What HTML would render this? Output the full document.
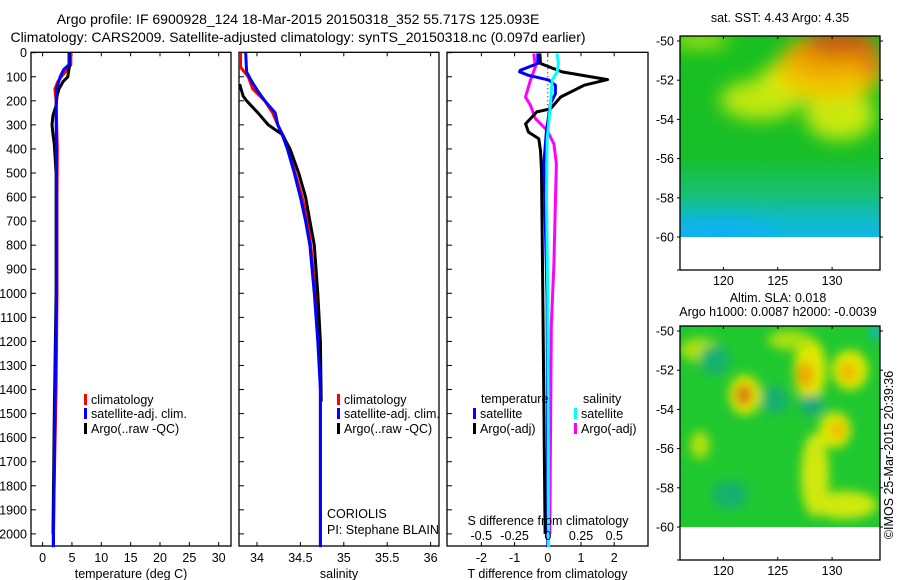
<!DOCTYPE html>
<html><head><meta charset="utf-8">
<style>
html,body{margin:0;padding:0;background:#fff;}
svg{display:block;font-family:"Liberation Sans",sans-serif;}
text{font-size:12.5px;fill:#000;}
</style></head>
<body>
<svg id="c" width="900" height="580" viewBox="0 0 900 580">
<defs>
<filter id="bl" x="-50%" y="-50%" width="200%" height="200%"><feGaussianBlur stdDeviation="9"/></filter>
<filter id="bl2" x="-50%" y="-50%" width="200%" height="200%"><feGaussianBlur stdDeviation="5"/></filter>
<clipPath id="m1"><rect x="680" y="36" width="200" height="201"/></clipPath>
<clipPath id="m2"><rect x="680" y="326" width="200" height="201"/></clipPath>
<linearGradient id="sstg" x1="0" y1="0" x2="0" y2="1">
<stop offset="0" stop-color="#18c020"/><stop offset="0.6" stop-color="#18bf28"/><stop offset="0.78" stop-color="#18c070"/><stop offset="0.9" stop-color="#10bcc0"/><stop offset="1" stop-color="#10b8e8"/>
</linearGradient>
</defs>
<text x="298" y="24" text-anchor="middle" style="font-size:14px">Argo profile: IF 6900928_124 18-Mar-2015 20150318_352 55.717S 125.093E</text>
<text x="298" y="42" text-anchor="middle" style="font-size:14px">Climatology: CARS2009. Satellite-adjusted climatology: synTS_20150318.nc (0.097d earlier)</text>

<!-- top map -->
<g>
<text x="780" y="22" text-anchor="middle">sat. SST: 4.43 Argo: 4.35</text>
<g clip-path="url(#m1)">
<rect x="680" y="36" width="200" height="201" fill="url(#sstg)"/>
<g filter="url(#bl)">
<ellipse cx="700" cy="40" rx="30" ry="8" fill="#b0e410"/>
<ellipse cx="760" cy="100" rx="40" ry="20" fill="#c0e810"/>
<ellipse cx="800" cy="80" rx="40" ry="22" fill="#d0ec10"/>
<ellipse cx="840" cy="115" rx="35" ry="25" fill="#c8ea10"/>
<ellipse cx="830" cy="70" rx="55" ry="30" fill="#f0c800"/>
<ellipse cx="830" cy="55" rx="45" ry="22" fill="#eca000"/>
<ellipse cx="840" cy="42" rx="35" ry="14" fill="#c85a08"/>
<ellipse cx="872" cy="62" rx="10" ry="20" fill="#e07808"/>
<ellipse cx="720" cy="234" rx="55" ry="14" fill="#10b0f0"/>
</g>
</g>
<rect x="680" y="36" width="200" height="234" fill="none" stroke="#000" stroke-width="1.3"/>
</g>

<!-- bottom map -->
<g>
<text x="778" y="302" text-anchor="middle">Altim. SLA: 0.018</text>
<text x="778" y="316" text-anchor="middle">Argo h1000: 0.0087 h2000: -0.0039</text>
<g clip-path="url(#m2)">
<rect x="680" y="326" width="200" height="201" fill="#20c830"/>
<g filter="url(#bl2)">
<ellipse cx="745" cy="395" rx="16" ry="20" fill="#e0e800"/>
<ellipse cx="744" cy="395" rx="8" ry="11" fill="#d87010"/>
<ellipse cx="810" cy="370" rx="16" ry="32" fill="#e0e800"/>
<ellipse cx="805" cy="375" rx="8" ry="13" fill="#f0a000"/>
<ellipse cx="850" cy="370" rx="18" ry="20" fill="#e0e800"/>
<ellipse cx="848" cy="372" rx="8" ry="9" fill="#f0b000"/>
<ellipse cx="835" cy="430" rx="16" ry="18" fill="#e0e800"/>
<ellipse cx="838" cy="430" rx="7" ry="8" fill="#f0b000"/>
<ellipse cx="815" cy="475" rx="14" ry="42" fill="#d0e810"/>
<ellipse cx="845" cy="505" rx="32" ry="14" fill="#d0e810"/>
<ellipse cx="700" cy="350" rx="20" ry="12" fill="#a8e010"/>
<ellipse cx="790" cy="340" rx="22" ry="10" fill="#a8e010"/>
<ellipse cx="700" cy="445" rx="10" ry="14" fill="#b0e010"/>
<ellipse cx="715" cy="360" rx="15" ry="15" fill="#18b070"/>
<ellipse cx="775" cy="400" rx="14" ry="14" fill="#18b070"/>
<ellipse cx="812" cy="405" rx="12" ry="10" fill="#18a880"/>
<ellipse cx="730" cy="495" rx="18" ry="14" fill="#18b070"/>
<ellipse cx="876" cy="332" rx="5" ry="8" fill="#10b0e0"/>
</g>
</g>
<rect x="680" y="326" width="200" height="234" fill="none" stroke="#000" stroke-width="1.3"/>
<text transform="translate(893,455) rotate(-90)" text-anchor="middle">©IMOS 25-Mar-2015 20:39:36</text>
</g>

<g id="plots"></g>
</svg>
<script>
// ---------- data ----------
var depthTicks=[0,100,200,300,400,500,600,700,800,900,1000,1100,1200,1300,1400,1500,1600,1700,1800,1900,2000];
var tempTicks=[0,5,10,15,20,25,30];
var salTicks=[34,34.5,35,35.5,36];
var salTickLabels=["34","34.5","35","35.5","36"];
var tdTicks=[-2,-1,0,1,2];
var sdTicks=[-0.5,-0.25,0,0.25,0.5];
var sdTickLabels=["-0.5","-0.25","0","0.25","0.5"];
var lonTicks=[120,125,130];
var latTicks=[-50,-52,-54,-56,-58,-60];

var tClimDepth=[0,50,70,90,120,150,200,400,600,1000,1400,2000,2055];
var tClimVal=[4.8,4.8,4.3,3.5,2.6,2.1,2.3,2.5,2.45,2.45,2.3,1.8,1.8];
var tSatDepth=[0,50,70,100,150,250,500,1000,1500,2000,2055];
var tSatVal=[4.5,4.5,3.6,3.0,2.37,2.3,2.37,2.37,2.1,1.85,1.85];
var tArgoDepth=[0,50,100,120,150,180,220,260,300,340,380,500,1000,1500,2000];
var tArgoVal=[4.55,4.6,4.3,3.5,2.8,2.45,2.3,1.77,1.6,1.77,2.0,2.3,2.3,2.0,1.77];

var sClimDepth=[0,60,100,150,200,250,300,350,400,500,600,700,800,1000,1300,2000,2055];
var sClimVal=[33.81,33.81,33.90,33.95,34.09,34.18,34.24,34.31,34.36,34.44,34.52,34.58,34.62,34.67,34.73,34.73,34.73];
var sSatDepth=[0,80,120,160,200,250,300,350,400,500,600,700,800,1000,1200,1400,2000,2055];
var sSatVal=[33.87,33.88,33.94,34.01,34.09,34.21,34.24,34.30,34.35,34.43,34.50,34.56,34.61,34.66,34.70,34.73,34.73,34.73];
var sArgoDepth=[130,180,200,250,300,340,400,500,600,700,800,1000,1200,1450];
var sArgoVal=[33.80,33.84,33.88,34.01,34.13,34.29,34.38,34.48,34.56,34.61,34.66,34.70,34.73,34.74];

var dTArgoDepth=[3,45,80,112,135,184,233,246,296,330,358,407,490,1000,2000];
var dTArgoVal=[-0.24,-0.22,0.43,1.8,1.1,0.39,0.08,-0.33,-0.67,-0.58,-0.27,-0.22,-0.19,-0.15,-0.08];
var dTSatDepth=[3,45,73,80,94,114,135,170,212,323,463,741,1020,2000,2055];
var dTSatVal=[-0.3,-0.3,-0.83,-0.85,-0.58,0.03,0.23,0.23,0.08,-0.04,-0.12,-0.07,-0.02,0.0,0.0];
var dSArgoDepth=[3,59,114,184,219,274,323,379,463,602,880,1131,2000];
var dSArgoVal=[-0.105,-0.093,-0.13,-0.168,-0.13,-0.093,-0.005,0.046,0.065,0.058,0.046,0.026,0.015];
var dSSatDepth=[3,45,80,114,212,365,602,1020,2000,2055];
var dSSatVal=[0.07,0.08,0.07,0.033,0.02,-0.005,-0.01,0.0,0.005,0.005];

// ---------- axes ----------
var NS="http://www.w3.org/2000/svg";
var root=document.getElementById('plots');
function yD(d){return 52.7+d*0.2406;}
function xT(t){return 42.6+t*5.87;}
function xS(s){return 257+(s-34)*86.8;}
function xDT(v){return 547.8+v*33.2;}
function xDS(v){return 547.8+v*133;}
var TOP=52.3,BOT=546;
function mk(tag,attrs,parent){var e=document.createElementNS(NS,tag);for(var k in attrs)e.setAttribute(k,attrs[k]);(parent||root).appendChild(e);return e;}
function txt(x,y,s,anchor,parent){var e=mk('text',{x:x,y:y,'text-anchor':anchor||'start'},parent);e.textContent=s;return e;}

function panel(name,x0,x1,xticks,xfn,xlabels,xtitle){
  var g=mk('g',{});
  
  
  var r=mk('rect',{x:x0,y:TOP,width:x1-x0,height:BOT-TOP,fill:'none',stroke:'#000','stroke-width':1.3},g);
  
  
  for(var i=0;i<xticks.length;i++){
    var x=xfn(xticks[i]);
    mk('line',{x1:x,x2:x,y1:TOP,y2:TOP+4,stroke:'#000'},g);
    mk('line',{x1:x,x2:x,y1:BOT,y2:BOT-4,stroke:'#000'},g);
    if(xlabels){var t=txt(x,562,xlabels[i],'middle',g);
      
      }
  }
  for(var j=0;j<depthTicks.length;j++){
    var y=yD(depthTicks[j]);
    mk('line',{x1:x0,x2:x0+5,y1:y,y2:y,stroke:'#000'},g);
  }
  var tt=txt((x0+x1)/2,578,xtitle,'middle',g);
  
  
  return g;
}
function line(g,name,depths,vals,xfn,color,w){
  var d='';
  for(var i=0;i<depths.length;i++){d+=(i?'L':'M')+xfn(vals[i]).toFixed(1)+','+yD(depths[i]).toFixed(1);}
  var p=mk('path',{d:d,fill:'none',stroke:color,'stroke-width':w||3,'stroke-linejoin':'round'},g);
  
  
}
function legend(g,x,y,color,label){
  mk('rect',{x:x,y:y-10,width:3,height:11,fill:color},g);
  var t=txt(x+7,y,label,'start',g);
  
  
}

for(var j=0;j<depthTicks.length;j++){
  var t=txt(27,yD(depthTicks[j])+4.5,String(depthTicks[j]),'end');
  
  
}

var g1=panel('temperature-panel',31,231,tempTicks,xT,tempTicks.map(String),'temperature (deg C)');
line(g1,'temp-climatology-line',tClimDepth,tClimVal,xT,'#f00');
line(g1,'temp-argo-line',tArgoDepth,tArgoVal,xT,'#000');
line(g1,'temp-satellite-line',tSatDepth,tSatVal,xT,'#00f');
legend(g1,84,404,'#f00','climatology');
legend(g1,84,418,'#00f','satellite-adj. clim.');
legend(g1,84,433,'#000','Argo(..raw -QC)');

var g2=panel('salinity-panel',239,439,salTicks,xS,salTickLabels,'salinity');
line(g2,'sal-climatology-line',sClimDepth,sClimVal,xS,'#f00');
line(g2,'sal-argo-line',sArgoDepth,sArgoVal,xS,'#000');
line(g2,'sal-satellite-line',sSatDepth,sSatVal,xS,'#00f');
legend(g2,337,404,'#f00','climatology');
legend(g2,337,418,'#00f','satellite-adj. clim.');
legend(g2,337,433,'#000','Argo(..raw -QC)');
txt(327,518,'CORIOLIS','start',g2);
txt(327,534,'PI: Stephane BLAIN','start',g2);

var g3=panel('difference-panel',447,648,tdTicks,xDT,tdTicks.map(String),'T difference from climatology');
mk('line',{x1:xDT(0),x2:xDT(0),y1:TOP,y2:yD(400),stroke:'#000','stroke-dasharray':'1,3'},g3);
line(g3,'sdiff-argo-line',dSArgoDepth,dSArgoVal,xDS,'#f0f');
line(g3,'tdiff-argo-line',dTArgoDepth,dTArgoVal,xDT,'#000');
line(g3,'tdiff-satellite-line',dTSatDepth,dTSatVal,xDT,'#00f');
line(g3,'sdiff-satellite-line',dSSatDepth,dSSatVal,xDS,'#0ff');
txt(481,403,'temperature','start',g3);
txt(583,403,'salinity','start',g3);
legend(g3,473,418,'#00f','satellite');
legend(g3,473,433,'#000','Argo(-adj)');
legend(g3,574,418,'#0ff','satellite');
legend(g3,574,433,'#f0f','Argo(-adj)');
txt(548,525,'S difference from climatology','middle',g3);
for(var i=0;i<sdTicks.length;i++){
  var t=txt(xDS(sdTicks[i]),540,sdTickLabels[i],'middle',g3);
  
  
}

function lonX(l){return 723.4+(l-120)*10.87;}
function latY(l,off){return off+41+(-50-l)*19.6;}
function mapAxes(off,bottom){
  var g=mk('g',{});
  
  
  for(var i=0;i<lonTicks.length;i++){
    var x=lonX(lonTicks[i]);
    mk('line',{x1:x,x2:x,y1:off+35.5,y2:off+39,stroke:'#000'},g);
    mk('line',{x1:x,x2:x,y1:bottom,y2:bottom-3,stroke:'#000'},g);
    txt(x,bottom+15,String(lonTicks[i]),'middle',g);
  }
  for(var j=0;j<latTicks.length;j++){
    var y=latY(latTicks[j],off);
    mk('line',{x1:677,x2:680,y1:y,y2:y,stroke:'#000'},g);
    mk('line',{x1:880,x2:883,y1:y,y2:y,stroke:'#000'},g);
    txt(674,y+4.5,String(latTicks[j]),'end',g);
  }
  mk('line',{x1:677,x2:680,y1:bottom,y2:bottom,stroke:'#000'},g);
}
mapAxes(0,270);
mapAxes(290,560);
</script>
</body></html>
